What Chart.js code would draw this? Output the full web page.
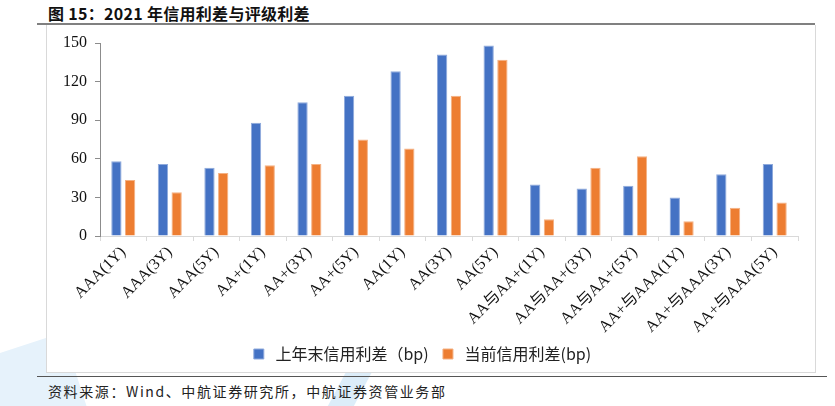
<!DOCTYPE html>
<html>
<head>
<meta charset="utf-8">
<script src="https://cdn.jsdelivr.net/npm/chart.js@4.4.0/dist/chart.umd.min.js"></script>
<style>
  html, body { margin: 0; padding: 0; background: #fff; }
  body { width: 835px; height: 406px; position: relative; overflow: hidden; font-family: "Noto Sans CJK SC", sans-serif; }
  .wm1 { position: absolute; left: -60px; top: 352px; width: 140px; height: 90px; background: #e6f2fb; transform: rotate(-18deg); border-radius: 40px 0 0 0; }
  .wm2 { position: absolute; left: 330px; top: 372px; width: 26px; height: 60px; background: #dcedf9; transform: skewX(-28deg); }
  .title { position: absolute; left: 48px; top: 1px; font-size: 16px; font-weight: bold; letter-spacing: 0.3px; color: #111; }
  .rule-top { position: absolute; left: 37px; top: 23px; width: 778px; height: 2px; background: #808080; }
  .box { position: absolute; left: 46px; top: 25px; width: 768px; height: 347px; border: 1px solid #d9d9d9; border-top: none; background: #fff; }
  .rule-bottom { position: absolute; left: 37px; top: 376px; width: 790px; height: 1px; background: #555; }
  .source { position: absolute; left: 48px; top: 381px; font-size: 14px; letter-spacing: 1.6px; color: #222; }
</style>
</head>
<body>
<div class="wm1"></div>
<div class="wm2"></div>
<div class="title">图 15：2021 年信用利差与评级利差</div>
<div class="rule-top"></div>
<div class="box"><canvas id="chart" width="768" height="347"></canvas></div>
<div class="rule-bottom"></div>
<div class="source">资料来源：Wind、中航证券研究所，中航证券资管业务部</div>

<script>
// categories and series
const categories = [
  "AAA(1Y)", "AAA(3Y)", "AAA(5Y)", "AA+(1Y)", "AA+(3Y)", "AA+(5Y)",
  "AA(1Y)", "AA(3Y)", "AA(5Y)",
  "AA与AA+(1Y)", "AA与AA+(3Y)", "AA与AA+(5Y)",
  "AA+与AAA(1Y)", "AA+与AAA(3Y)", "AA+与AAA(5Y)"
]
const lastYearEnd = [58, 56, 53, 88, 104, 109, 128, 141, 148, 40, 37, 39, 30, 48, 56]
const current = [43.5, 34, 49, 55, 56, 75, 68, 109, 137, 13, 53, 62, 11.5, 22, 26]
const yTicks = [0, 30, 60, 90, 120, 150]

const serif = "'Liberation Serif', 'Times New Roman', 'Noto Sans CJK SC', serif"

const ctx = document.getElementById("chart").getContext("2d")

new Chart(ctx, {
  type: "bar",
  data: {
    labels: categories,
    datasets: [
      {
        label: "上年末信用利差（bp)",
        data: lastYearEnd,
        backgroundColor: "#4472C4",
        borderColor: "#8FAADC",
        borderWidth: 1
      },
      {
        label: "当前信用利差(bp)",
        data: current,
        backgroundColor: "#ED7D31",
        borderColor: "#F4B183",
        borderWidth: 1
      }
    ]
  },
  options: {
    responsive: false,
    animation: false,
    devicePixelRatio: 1,
    layout: { padding: { top: 18, right: 17, left: 0, bottom: 0 } },
    datasets: {
      bar: { categoryPercentage: 0.59, barPercentage: 0.75 }
    },
    plugins: {
      tooltip: { enabled: false },
      legend: {
        display: true,
        position: "bottom",
        labels: {
          boxWidth: 10,
          boxHeight: 10,
          padding: 0,
          color: "#222",
          font: { size: 16, family: "'Noto Sans CJK SC', sans-serif" },
          // legend padding 0 also kills the gap between items, so pad the text instead
          generateLabels: function (chart) {
            const items = Chart.defaults.plugins.legend.labels.generateLabels(chart)
            items.forEach(function (item, i) {
              item.text = " " + item.text + (i < items.length - 1 ? "    " : "")
            })
            return items
          }
        }
      }
    },
    scales: {
      x: {
        offset: true,
        grid: {
          offset: true,
          drawOnChartArea: false,
          drawTicks: true,
          tickLength: 5,
          color: "#d9d9d9"
        },
        border: { color: "#d9d9d9", width: 1 },
        ticks: {
          autoSkip: false,
          maxRotation: 45,
          minRotation: 45,
          padding: 2,
          color: "#111",
          font: { size: 16, family: serif }
        },
        afterFit: function (scale) { scale.height = 110 }
      },
      y: {
        min: 0,
        max: 150,
        afterBuildTicks: function (scale) {
          scale.ticks = yTicks.map(function (v) { return { value: v } })
        },
        grid: {
          drawOnChartArea: false,
          drawTicks: true,
          tickLength: 5,
          color: "#8c8c8c"
        },
        border: { color: "#8c8c8c", width: 1 },
        ticks: {
          padding: 8,
          color: "#111",
          font: { size: 16, family: serif }
        },
        afterFit: function (scale) { scale.width = 53 }
      }
    }
  }
})
</script>
</body>
</html>
